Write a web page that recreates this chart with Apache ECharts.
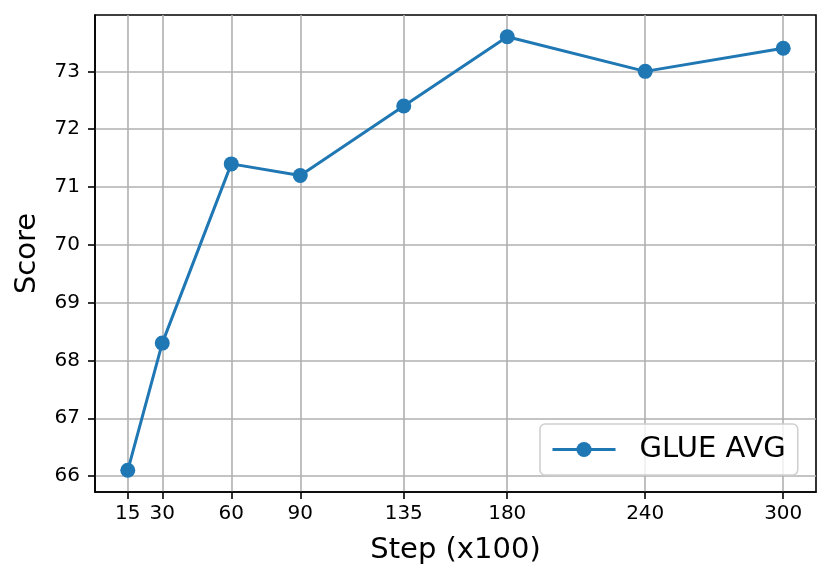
<!DOCTYPE html>
<html>
<head>
<meta charset="utf-8">
<script src="https://cdn.jsdelivr.net/npm/echarts@6/dist/echarts.min.js"></script>
<style>html,body{margin:0;padding:0;background:#fff}#c{width:831px;height:582px}</style>
</head>
<body>
<div id="c"></div>
<script>
const steps = [15, 30, 60, 90, 135, 180, 240, 300];
const scores = [66.1, 68.3, 71.4, 71.2, 72.4, 73.6, 73.0, 73.4];
const xTicks = [15, 30, 60, 90, 135, 180, 240, 300];
const yTicks = [66, 67, 68, 69, 70, 71, 72, 73];
const seriesName = 'GLUE AVG';

const FONT = 'DejaVu Sans';
const chart = echarts.init(document.getElementById('c'), null, {renderer: 'canvas'});
chart.setOption({
  animation: false,
  backgroundColor: '#fff',
  grid: {left: 95, right: 15, top: 15, bottom: 90, containLabel: false,
    show: true, borderColor: '#000', borderWidth: 1.6, backgroundColor: 'transparent'},
  xAxis: {
    type: 'value', min: 0.75, max: 314.25,
    name: 'Step (x100)', nameLocation: 'middle', nameGap: 44,
    nameTextStyle: {fontFamily: FONT, fontSize: 29, color: '#000'},
    axisLine: {show: true, onZero: false, lineStyle: {color: '#000', width: 1.6}},
    axisTick: {show: true, length: 7, customValues: xTicks, lineStyle: {color: '#000', width: 1.6}},
    axisLabel: {customValues: xTicks, fontFamily: FONT, fontSize: 20, color: '#000', margin: 12},
    splitLine: {show: true, lineStyle: {color: '#b0b0b0', width: 1.6}}
  },
  yAxis: {
    type: 'value', min: 65.725, max: 73.975,
    name: 'Score', nameLocation: 'middle', nameGap: 53,
    nameTextStyle: {fontFamily: FONT, fontSize: 29, color: '#000'},
    axisLine: {show: true, lineStyle: {color: '#000', width: 1.6}},
    axisTick: {show: true, length: 7, customValues: yTicks, lineStyle: {color: '#000', width: 1.6}},
    axisLabel: {customValues: yTicks, fontFamily: FONT, fontSize: 20, color: '#000', margin: 15},
    splitLine: {show: true, lineStyle: {color: '#b0b0b0', width: 1.6}}
  },
  legend: {
    left: 540, top: 424,
    padding: [11, 12, 11, 11],
    itemWidth: 63, itemHeight: 19,
    borderColor: '#d0d0d0', borderWidth: 1.6, borderRadius: 5,
    backgroundColor: 'rgba(255,255,255,0.8)',
    lineStyle: {width: 3},
    textStyle: {fontFamily: FONT, fontSize: 29, color: '#000', padding: [0, 0, 0, 19]},
    data: [seriesName]
  },
  series: [{
    name: seriesName, type: 'line',
    data: steps.map((s, i) => [s, scores[i]]),
    symbol: 'circle', symbolSize: 15,
    itemStyle: {color: '#1f77b4'},
    lineStyle: {color: '#1f77b4', width: 3}
  }]
});
</script>
</body>
</html>
